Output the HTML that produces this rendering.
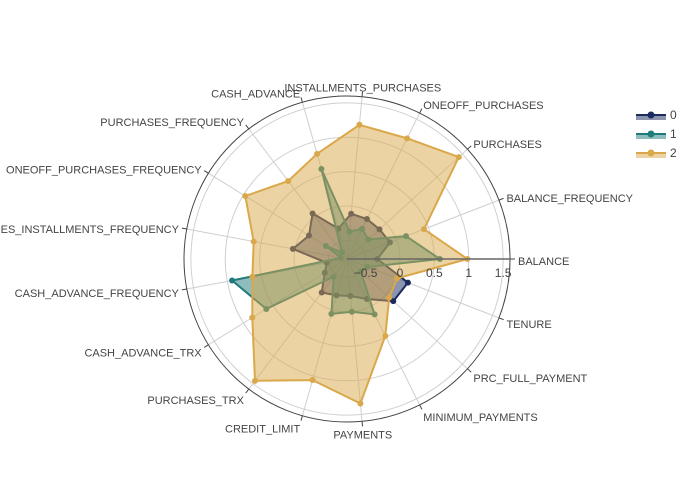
<!DOCTYPE html>
<html><head><meta charset="utf-8"><style>
html,body{margin:0;padding:0;background:#fff;}
svg{display:block;font-family:"Liberation Sans",sans-serif;}
</style></head><body>
<svg id="chart" width="700" height="500" viewBox="0 0 700 500"></svg>
<script>
const categories = ["BALANCE","BALANCE_FREQUENCY","PURCHASES","ONEOFF_PURCHASES","INSTALLMENTS_PURCHASES","CASH_ADVANCE","PURCHASES_FREQUENCY","ONEOFF_PURCHASES_FREQUENCY","PURCHASES_INSTALLMENTS_FREQUENCY","CASH_ADVANCE_FREQUENCY","CASH_ADVANCE_TRX","PURCHASES_TRX","CREDIT_LIMIT","PAYMENTS","MINIMUM_PAYMENTS","PRC_FULL_PAYMENT","TENURE"];
const series0 = [-0.33,-0.10,-0.13,-0.12,-0.11,-0.31,0.06,-0.12,0.03,-0.47,-0.39,-0.16,-0.22,-0.23,-0.12,0.14,0.18];
const series1 = [0.58,0.15,-0.35,-0.28,-0.37,0.59,-0.65,-0.41,-0.68,0.93,0.61,-0.45,0.06,0.0,0.13,-0.5,-0.45];
const series2 = [0.98,0.43,1.43,1.19,1.19,0.82,0.65,0.97,0.61,0.63,0.85,1.45,1.06,1.34,0.48,0.06,0.01];
const seriesNames = ["0","1","2"];
const radialTicks = [-0.5,0,0.5,1,1.5];
const radialTickLabels = ["−0.5","0","0.5","1","1.5"];

const NS="http://www.w3.org/2000/svg";
const svg=document.getElementById('chart');
const CX=347, CY=259, R=163, RMIN=-0.77, RMAX=1.6;
const colors=["#1b2b5e","#1f7b7b","#daa84a"];
function mk(tag,attrs,parent){const e=document.createElementNS(NS,tag);for(const k in attrs)e.setAttribute(k,attrs[k]);(parent||svg).appendChild(e);return e;}
function rScale(v){return (v-RMIN)/(RMAX-RMIN)*R;}
function ang(i){return i*2*Math.PI/categories.length;}
function pt(i,v){const r=rScale(v),a=ang(i);return [CX+r*Math.cos(a),CY-r*Math.sin(a)];}

radialTicks.forEach(t=>{
  const c=mk('circle',{cx:CX,cy:CY,r:rScale(t),fill:'none',stroke:'#d0d0d0','stroke-width':1});
  
  
});
categories.forEach((cat,i)=>{
  const a=ang(i),cs=Math.cos(a),sn=Math.sin(a);
  const sp=mk('line',{x1:CX,y1:CY,x2:CX+R*cs,y2:CY-R*sn,stroke:'#cfcfcf','stroke-width':1});
  
  
  const tk=mk('line',{x1:CX+R*cs,y1:CY-R*sn,x2:CX+(R+5)*cs,y2:CY-(R+5)*sn,stroke:'#444','stroke-width':1});
  
  
  const lx=CX+(R+8)*cs, ly=CY-(R+9)*sn-2*sn+2;
  const anchor=cs>0.1?'start':(cs<-0.1?'end':'middle');
  const tx=mk('text',{x:lx,y:ly+4,'text-anchor':anchor,'font-size':11,fill:'#444'});
  tx.textContent=cat;
  
  
});
const ob=mk('circle',{cx:CX,cy:CY,r:R,fill:'none',stroke:'#444','stroke-width':1});



[series0,series1,series2].forEach((s,k)=>{
  const g=mk('g',{});
  
  
  const pts=s.map((v,i)=>pt(i,v));
  const d=pts.map(p=>p[0].toFixed(1)+','+p[1].toFixed(1)).join(' ');
  const poly=mk('polygon',{points:d,fill:colors[k],'fill-opacity':0.5,stroke:colors[k],'stroke-width':2,'stroke-linejoin':'round'},g);
  
  
  pts.forEach(p=>{
    const c=mk('circle',{cx:p[0],cy:p[1],r:3,fill:colors[k]},g);
    
    
  });
});

const ax=mk('line',{x1:CX,y1:CY,x2:CX+R,y2:CY,stroke:'#666','stroke-width':1.5});


radialTicks.forEach((t,i)=>{
  const x=CX+rScale(t);
  const tl=mk('text',{x:x,y:CY+18,'text-anchor':'middle','font-size':12,fill:'#444'});
  tl.textContent=radialTickLabels[i];
  
  
});

seriesNames.forEach((n,k)=>{
  const y=115+k*19;
  const g=mk('g',{});
  
  
  const rc=mk('rect',{x:636,y:y,width:30,height:5,fill:colors[k],'fill-opacity':0.5},g);
  
  
  const ln=mk('line',{x1:636,y1:y,x2:666,y2:y,stroke:colors[k],'stroke-width':2},g);
  
  
  const c=mk('circle',{cx:651,cy:y,r:3.5,fill:colors[k]},g);
  
  
  const t=mk('text',{x:670,y:y+4,'font-size':12,fill:'#444'},g);
  t.textContent=n;
  
  
});
</script>
</body></html>
